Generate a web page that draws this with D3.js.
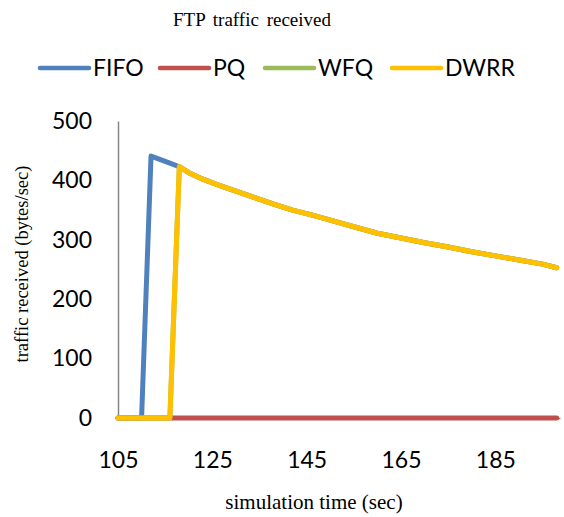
<!DOCTYPE html>
<html>
<head>
    <meta charset="UTF-8">
    <title>FTP traffic received</title>
    <script src="https://d3js.org/d3.v7.min.js"></script>
    <style>
        body { margin: 0; background: #fff; }
        .tick-label { font-family: Lato, "Noto Sans", sans-serif; font-size: 23px; fill: #000; }
        .serif { font-family: "Liberation Serif", "DejaVu Serif", serif; fill: #000; }
    </style>
</head>
<body>
    <svg id="chart"></svg>
    <script>
        const width = 564;
        const height = 517;

        // sample times (sec)
        const times = [105, 110, 112, 116, 118, 120, 123, 126, 130, 134, 138, 142, 146,
                       150, 155, 160, 165, 170, 175, 180, 185, 190, 195, 198];
        const fifo = [0, 0, 441, 429, 423, 413, 402, 393, 382, 371, 360, 350, 342,
                      333, 322, 311, 303, 295, 288, 280, 273, 266, 259, 253];
        const pq   = [0, 0, 0, 0, 0, 0, 0, 0, 0, 0, 0, 0, 0,
                      0, 0, 0, 0, 0, 0, 0, 0, 0, 0, 0];
        const wfq  = [0, 0, 0, 0, 423, 413, 402, 393, 382, 371, 360, 350, 342,
                      333, 322, 311, 303, 295, 288, 280, 273, 266, 259, 253];
        const dwrr = [0, 0, 0, 0, 423, 413, 402, 393, 382, 371, 360, 350, 342,
                      333, 322, 311, 303, 295, 288, 280, 273, 266, 259, 253];

        const seriesNames = ["FIFO", "PQ", "WFQ", "DWRR"];
        const seriesColors = ["#4F81BD", "#C0504D", "#9BBB59", "#FFC000"];
        const seriesValues = [fifo, pq, wfq, dwrr];
        const xTicks = [105, 125, 145, 165, 185];
        const yTicks = [0, 100, 200, 300, 400, 500];

        const svg = d3.select("#chart")
            .attr("width", width)
            .attr("height", height);

        const x = d3.scaleLinear().domain([105, 198.7]).range([118, 560]);
        const y = d3.scaleLinear().domain([0, 500]).range([418, 121]);

        // title
        svg.append("text")
            .attr("class", "serif")
            .attr("x", 252).attr("y", 26)
            .attr("text-anchor", "middle")
            .attr("font-size", 19)
            .attr("word-spacing", 3)
            .text("FTP traffic received");

        // legend
        const legendX = [40, 160, 265, 392];
        const legend = svg.append("g");
        seriesNames.forEach((name, i) => {
            legend.append("line")
                .attr("x1", legendX[i]).attr("x2", legendX[i] + 49)
                .attr("y1", 68).attr("y2", 68)
                .attr("stroke", seriesColors[i])
                .attr("stroke-width", 4.5)
                .attr("stroke-linecap", "round");
            legend.append("text")
                .attr("class", "tick-label")
                .attr("x", legendX[i] + 53).attr("y", 76)
                .text(name);
        });

        // axes
        const yAxis = svg.append("g")
            .attr("transform", "translate(118,0)")
            .call(d3.axisLeft(y).tickValues(yTicks).tickSize(0).tickPadding(26));
        yAxis.select(".domain").attr("stroke", "#868686").attr("stroke-width", 1.5);
        yAxis.selectAll("text").attr("class", "tick-label").attr("font-size", null).attr("font-family", null);

        const xAxis = svg.append("g")
            .attr("transform", "translate(0,418)")
            .call(d3.axisBottom(x).tickValues(xTicks).tickSize(0).tickPadding(34));
        xAxis.select(".domain").attr("stroke", "#868686").attr("stroke-width", 1.5);
        xAxis.selectAll("text").attr("class", "tick-label").attr("font-size", null).attr("font-family", null);

        // axis titles
        svg.append("text")
            .attr("class", "serif")
            .attr("x", 314).attr("y", 509)
            .attr("text-anchor", "middle")
            .attr("font-size", 21)
            .text("simulation time (sec)");

        svg.append("text")
            .attr("class", "serif")
            .attr("transform", "translate(28,264) rotate(-90)")
            .attr("text-anchor", "middle")
            .attr("font-size", 18.5)
            .text("traffic received (bytes/sec)");

        // lines
        const line = d3.line()
            .x((d, i) => x(times[i]))
            .y(d => y(d));

        svg.append("g")
            .selectAll("path")
            .data(seriesValues)
            .join("path")
            .attr("d", d => line(d))
            .attr("fill", "none")
            .attr("stroke", (d, i) => seriesColors[i])
            .attr("stroke-width", 5)
            .attr("stroke-linejoin", "round")
            .attr("stroke-linecap", "round");
    </script>
</body>
</html>
